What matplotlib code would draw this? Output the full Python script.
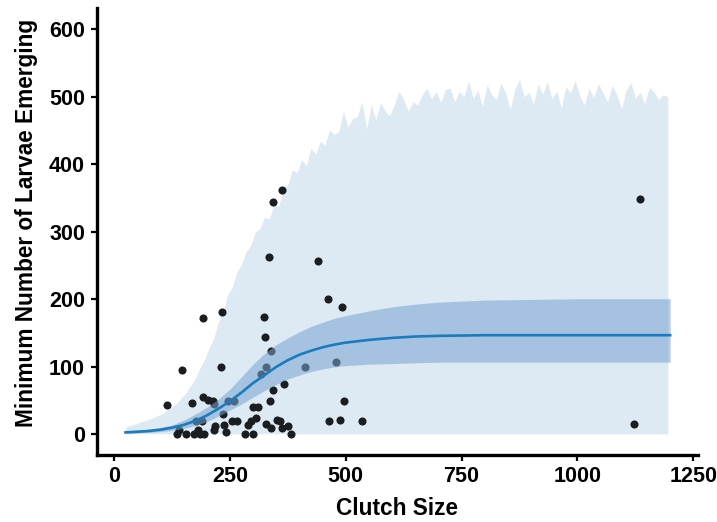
import numpy as np
import matplotlib
matplotlib.use("Agg")
import matplotlib.pyplot as plt

plt.rcParams['font.family'] = ['Liberation Sans', 'DejaVu Sans']
plt.rcParams['font.weight'] = 'bold'

# observed clutches
clutch_size = [114, 146, 193, 234, 362, 344, 335, 441, 462, 492, 324, 325, 339,
               231, 329, 317, 413, 480, 344, 366, 337, 497, 169, 193, 203, 214,
               216, 245, 259, 236, 301, 310, 464, 487, 536, 255, 265, 306, 296,
               290, 328, 338, 351, 358, 362, 375, 383, 237, 218, 216, 242, 283,
               301, 140, 137, 156, 172, 182, 185, 195, 178, 189, 1135, 1122]
larvae = [44, 96, 172, 181, 362, 345, 263, 257, 200, 189, 174, 144, 124,
          100, 100, 89, 100, 108, 66, 74, 50, 50, 47, 55, 51, 50,
          45, 50, 50, 30, 40, 41, 20, 22, 20, 20, 20, 25, 20,
          14, 16, 10, 22, 20, 9, 13, 0, 14, 13, 7, 4, 0,
          0, 6, 1, 0, 1, 6, 0, 0, 20, 20, 349, 15]

# fitted logistic curve with confidence interval
fit_x = [25, 50, 75, 100, 125, 150, 175, 200, 225, 250, 275, 300, 325, 350,
         375, 400, 425, 450, 475, 500, 550, 600, 650, 700, 800, 900, 1000,
         1100, 1200]
fit_y = [3, 4, 5, 7, 10, 14, 20, 28, 38, 49, 62, 76, 88, 100,
         110, 118, 124, 129, 133, 136, 140, 143, 145, 146, 147, 147, 147,
         147, 147]
ci_hi = [5, 6, 8, 10, 14, 21, 30, 40, 52, 67, 85, 104, 120, 133,
         143, 152, 160, 166, 172, 176, 183, 189, 193, 196, 199, 200, 201,
         201, 201]
ci_lo = [2, 2, 3, 4, 6, 9, 13, 19, 27, 36, 45, 55, 65, 74,
         82, 88, 93, 97, 100, 102, 104, 105, 106, 107, 107, 107, 107,
         107, 107]

# prediction interval (simulated quantiles, every 10 eggs from 25)
pi_x = np.arange(25, 1196, 10)
pi_hi = [11, 13, 15, 18, 20, 22, 25, 28, 31, 36,
         41, 46, 54, 61, 72, 82, 98, 110, 128, 142,
         166, 181, 206, 218, 240, 252, 271, 280, 300, 305,
         322, 319, 341, 338, 362, 370, 392, 388, 407, 398,
         424, 415, 434, 428, 451, 444, 449, 479, 455, 468,
         471, 493, 452, 489, 466, 491, 479, 472, 489, 508,
         496, 479, 493, 488, 503, 513, 497, 508, 492, 511,
         513, 493, 508, 500, 524, 498, 510, 486, 518, 503,
         496, 521, 505, 482, 512, 526, 500, 507, 490, 519,
         504, 523, 497, 509, 484, 515, 506, 525, 501, 488,
         513, 499, 520, 506, 492, 517, 503, 482, 510, 521,
         498, 507, 490, 514, 508, 496, 503, 500]
pi_lo = 1

fig, ax = plt.subplots(figsize=(7.17, 5.22), dpi=100)
fig.subplots_adjust(left=0.135, right=0.9735, bottom=0.129, top=0.985)

ax.fill_between(pi_x, pi_lo, pi_hi, color='#dde9f3', lw=0, zorder=1)
ax.scatter(clutch_size, larvae, s=34, color='#1b1e21', lw=0, zorder=2)
ax.fill_between(fit_x, ci_lo, ci_hi, color='#78a5d2', alpha=0.55, lw=0, zorder=3)
ax.plot(fit_x, fit_y, color='#1a7bbf', lw=1.9, zorder=4)

ax.set_xlim(-37, 1260)
ax.set_ylim(-30, 632)
ax.set_xticks([0, 250, 500, 750, 1000, 1250])
ax.set_yticks([0, 100, 200, 300, 400, 500, 600])

for side in ['top', 'right']:
    ax.spines[side].set_visible(False)
for side in ['left', 'bottom']:
    ax.spines[side].set_linewidth(2.4)
ax.tick_params(width=1.6, length=4, labelsize=15.5, pad=4.5)
for lbl in ax.get_xticklabels() + ax.get_yticklabels():
    lbl.set_fontweight('bold')

ax.set_xlabel('Clutch Size', fontsize=16.3, fontweight='bold', labelpad=7)
ax.set_ylabel('Minimum Number of Larvae Emerging', fontsize=16.3,
              fontweight='bold')
ax.yaxis.set_label_coords(-0.098, 0.518)

fig.savefig('out.png', dpi=100)
